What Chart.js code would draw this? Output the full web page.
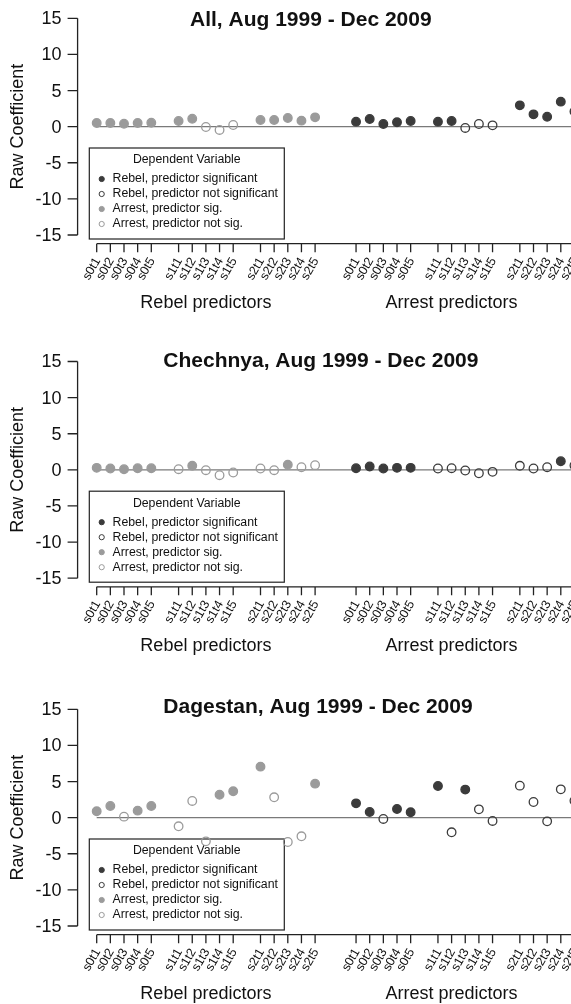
<!DOCTYPE html>
<html>
<head>
<meta charset="utf-8">
<script src="https://cdn.jsdelivr.net/npm/chart.js@4/dist/chart.umd.min.js"></script>
<style>
  html, body { margin: 0; padding: 0; background: #fff; overflow: hidden; width: 571px; height: 1004px; }
  #wrap { position: relative; width: 571px; height: 1004px; overflow: hidden; }
  canvas { position: absolute; left: 0; }
</style>
</head>
<body>
<div id="wrap">
  <canvas id="c1"></canvas>
  <canvas id="c2"></canvas>
  <canvas id="c3"></canvas>
</div>
<script>
// ---- data ----
const categories = ['s0t1','s0t2','s0t3','s0t4','s0t5',
                    's1t1','s1t2','s1t3','s1t4','s1t5',
                    's2t1','s2t2','s2t3','s2t4','s2t5'];
const groupLabels = ['Rebel predictors', 'Arrest predictors'];
const yTicks = [-15, -10, -5, 0, 5, 10, 15];
const legendTitle = 'Dependent Variable';
const legendLabels = ['Rebel, predictor significant', 'Rebel, predictor not significant',
                      'Arrest, predictor sig.', 'Arrest, predictor not sig.'];
const panelTitles = ['All, Aug 1999 - Dec 2009', 'Chechnya, Aug 1999 - Dec 2009',
                     'Dagestan, Aug 1999 - Dec 2009'];

// coefficients of rebel predictors (dependent variable: arrests)
const allRebelCoef = [0.5, 0.5, 0.4, 0.5, 0.55, 0.78, 1.1, -0.05, -0.46, 0.23, 0.92, 0.92, 1.2, 0.83, 1.29];
const allRebelSig  = [1, 1, 1, 1, 1, 1, 1, 0, 0, 0, 1, 1, 1, 1, 1];
// coefficients of arrest predictors (dependent variable: rebel attacks)
const allArrestCoef = [0.69, 1.06, 0.37, 0.6, 0.78, 0.69, 0.78, -0.18, 0.37, 0.18, 2.95, 1.7, 1.38, 3.46, 2.1];
const allArrestSig  = [1, 1, 1, 1, 1, 1, 1, 0, 0, 0, 1, 1, 1, 1, 1];

const chechRebelCoef = [0.28, 0.19, 0.09, 0.23, 0.23, 0.09, 0.56, -0.05, -0.74, -0.37, 0.19, -0.05, 0.7, 0.37, 0.65];
const chechRebelSig  = [1, 1, 1, 1, 1, 0, 1, 0, 0, 0, 0, 0, 1, 0, 0];
const chechArrestCoef = [0.23, 0.47, 0.19, 0.28, 0.28, 0.19, 0.23, -0.09, -0.47, -0.28, 0.56, 0.19, 0.37, 1.2, 0.6];
const chechArrestSig  = [1, 1, 1, 1, 1, 0, 0, 0, 0, 0, 0, 0, 0, 1, 0];

const dageRebelCoef = [0.88, 1.62, 0.14, 0.97, 1.62, -1.2, 2.31, -3.28, 3.18, 3.65, 7.06, 2.82, -3.37, -2.58, 4.71];
const dageRebelSig  = [1, 1, 0, 1, 1, 0, 0, 0, 1, 1, 1, 0, 0, 0, 1];
const dageArrestCoef = [1.98, 0.78, -0.18, 1.2, 0.74, 4.38, -2.03, 3.88, 1.15, -0.46, 4.43, 2.17, -0.51, 3.92, 2.35];
const dageArrestSig  = [1, 1, 0, 1, 1, 1, 0, 1, 0, 0, 0, 0, 0, 0, 0];

// ---- styling ----
const FONT = '"Liberation Sans", Arial, Helvetica, sans-serif';
const DARK = '#3b3b3b';
const LIGHT = '#9b9b9b';
const AXIS = '#222';
const CANVAS_W = 600;

// x position of predictor i in group g: blocks of five with gaps between them
function xPos(g, i) { return 1 + g * 19 + Math.floor(i / 5) * 6 + (i % 5); }
const X_FIRST = xPos(0, 0), X_LAST = xPos(1, 14);
const X_PAD = (X_LAST - X_FIRST) * 0.04;
const Y_PAD = 30 * 0.04;
const groupCenters = [9, 27];

function pts(g, coef, sig, want) {
  const out = [];
  coef.forEach((v, i) => { if (sig[i] === want) out.push({ x: xPos(g, i), y: v }); });
  return out;
}

const legendStyles = [
  { fill: DARK, stroke: DARK },
  { fill: 'rgba(0,0,0,0)', stroke: DARK },
  { fill: LIGHT, stroke: LIGHT },
  { fill: 'rgba(0,0,0,0)', stroke: LIGHT }
];

const rAxes = {
  id: 'rAxes',
  beforeDatasetsDraw(chart, args, o) {
    const ctx = chart.ctx, ys = chart.scales.y;
    const yb = ys.getPixelForValue(-15);
    const left = 89.3, right = 284.3, top = yb - 87, bottom = yb + 4;
    ctx.save();
    ctx.fillStyle = '#fff';
    ctx.fillRect(left, top, right - left, bottom - top);
    ctx.strokeStyle = AXIS;
    ctx.lineWidth = 1.2;
    ctx.strokeRect(left, top, right - left, bottom - top);
    ctx.fillStyle = '#111';
    ctx.font = '12.3px ' + FONT;
    ctx.textBaseline = 'middle';
    ctx.textAlign = 'center';
    ctx.fillText(legendTitle, (left + right) / 2, yb - 75);
    ctx.textAlign = 'left';
    legendLabels.forEach((lab, k) => {
      const y = yb - 56 + k * 15;
      const st = legendStyles[k];
      ctx.beginPath();
      ctx.arc(101.7, y, 2.6, 0, Math.PI * 2);
      ctx.fillStyle = st.fill;
      ctx.fill();
      ctx.lineWidth = 1;
      ctx.strokeStyle = st.stroke;
      ctx.stroke();
      ctx.fillStyle = '#111';
      ctx.fillText(lab, 112.5, y);
    });
    ctx.restore();
  },
  afterDraw(chart, args, o) {
    const ctx = chart.ctx, xs = chart.scales.x, ys = chart.scales.y, area = chart.chartArea;
    ctx.save();
    ctx.strokeStyle = AXIS;
    ctx.fillStyle = '#111';
    ctx.lineWidth = 1.3;
    // y axis
    const ax = area.left;
    ctx.beginPath();
    ctx.moveTo(ax, ys.getPixelForValue(15));
    ctx.lineTo(ax, ys.getPixelForValue(-15));
    yTicks.forEach(t => {
      const y = ys.getPixelForValue(t);
      ctx.moveTo(ax, y);
      ctx.lineTo(ax - 10, y);
    });
    ctx.stroke();
    ctx.font = '18px ' + FONT;
    ctx.textAlign = 'right';
    ctx.textBaseline = 'middle';
    yTicks.forEach(t => {
      ctx.fillText(String(t), ax - 16, ys.getPixelForValue(t) + 1);
    });
    // y axis title
    ctx.save();
    ctx.translate(18, ys.getPixelForValue(0));
    ctx.rotate(-Math.PI / 2);
    ctx.textAlign = 'center';
    ctx.fillText('Raw Coefficient', 0, 0);
    ctx.restore();
    // x axis
    const ay = area.bottom;
    ctx.beginPath();
    ctx.moveTo(xs.getPixelForValue(X_FIRST), ay);
    ctx.lineTo(xs.getPixelForValue(X_LAST), ay);
    [0, 1].forEach(g => categories.forEach((c, i) => {
      const x = xs.getPixelForValue(xPos(g, i));
      ctx.moveTo(x, ay);
      ctx.lineTo(x, ay + 8.5);
    }));
    ctx.stroke();
    ctx.font = '12.5px ' + FONT;
    [0, 1].forEach(g => categories.forEach((c, i) => {
      const x = xs.getPixelForValue(xPos(g, i));
      ctx.save();
      ctx.translate(x + 1, ay + 15);
      ctx.rotate(-Math.PI / 3);
      ctx.textAlign = 'right';
      ctx.textBaseline = 'middle';
      ctx.fillText(c, 0, 0);
      ctx.restore();
    }));
    ctx.font = '18px ' + FONT;
    ctx.textAlign = 'center';
    ctx.textBaseline = 'middle';
    groupLabels.forEach((lab, g) => {
      ctx.fillText(lab, xs.getPixelForValue(groupCenters[g]), ys.getPixelForValue(15) + 285);
    });
    // panel title
    ctx.font = 'bold 21px ' + FONT;
    ctx.textAlign = 'left';
    ctx.textBaseline = 'alphabetic';
    ctx.fillText(o.title, o.titleX, ys.getPixelForValue(15) + o.titleDy);
    ctx.restore();
  }
};

function makePanel(id, top, height, t15, tm15, title, titleX, titleDy, rebelCoef, rebelSig, arrestCoef, arrestSig) {
  const cv = document.getElementById(id);
  cv.width = CANVAS_W; cv.height = height;
  cv.style.width = CANVAS_W + 'px'; cv.style.height = height + 'px';
  cv.style.top = top + 'px';
  const unit = (tm15 - t15) / 30;
  const padTop = t15 - top - Y_PAD * unit;
  const padBottom = top + height - (tm15 + Y_PAD * unit);
  const xUnit = 13.65;
  const areaLeft = 96.7 - X_PAD * xUnit;
  const areaRight = areaLeft + (X_LAST - X_FIRST + 2 * X_PAD) * xUnit;
  const pt = (color, filled) => ({
    pointRadius: 4.3,
    pointHoverRadius: 4.3,
    pointBorderWidth: 1.3,
    pointBackgroundColor: filled ? color : 'rgba(0,0,0,0)',
    pointBorderColor: color,
    backgroundColor: filled ? color : 'rgba(0,0,0,0)',
    borderColor: color,
    showLine: false,
    order: 0
  });
  new Chart(cv, {
    type: 'scatter',
    data: {
      datasets: [
        Object.assign({ label: legendLabels[2], data: pts(0, rebelCoef, rebelSig, 1) }, pt(LIGHT, true)),
        Object.assign({ label: legendLabels[3], data: pts(0, rebelCoef, rebelSig, 0) }, pt(LIGHT, false)),
        Object.assign({ label: legendLabels[0], data: pts(1, arrestCoef, arrestSig, 1) }, pt(DARK, true)),
        Object.assign({ label: legendLabels[1], data: pts(1, arrestCoef, arrestSig, 0) }, pt(DARK, false)),
        {
          label: 'zero',
          type: 'line',
          data: [{ x: X_FIRST, y: 0 }, { x: X_LAST + X_PAD, y: 0 }],
          borderColor: '#7a7a7a',
          borderWidth: 1.3,
          pointRadius: 0,
          fill: false,
          order: 10
        }
      ]
    },
    options: {
      responsive: false,
      animation: false,
      devicePixelRatio: 1,
      clip: false,
      layout: { padding: { left: areaLeft, right: CANVAS_W - areaRight, top: padTop, bottom: padBottom } },
      scales: {
        x: { type: 'linear', display: false, min: X_FIRST - X_PAD, max: X_LAST + X_PAD },
        y: { type: 'linear', display: false, min: -15 - Y_PAD, max: 15 + Y_PAD }
      },
      plugins: {
        legend: { display: false },
        tooltip: { enabled: false },
        rAxes: { title: title, titleX: titleX, titleDy: titleDy }
      },
      datasets: { scatter: { clip: false } }
    },
    plugins: [rAxes]
  });
}

makePanel('c1', 0, 335, 18.3, 235.0, panelTitles[0], 190, 7.2, allRebelCoef, allRebelSig, allArrestCoef, allArrestSig);
makePanel('c2', 335, 345, 361.5, 578.2, panelTitles[1], 163.3, 5.2, chechRebelCoef, chechRebelSig, chechArrestCoef, chechArrestSig);
makePanel('c3', 680, 324, 709.3, 926.0, panelTitles[2], 163.3, 4.0, dageRebelCoef, dageRebelSig, dageArrestCoef, dageArrestSig);
</script>
</body>
</html>
